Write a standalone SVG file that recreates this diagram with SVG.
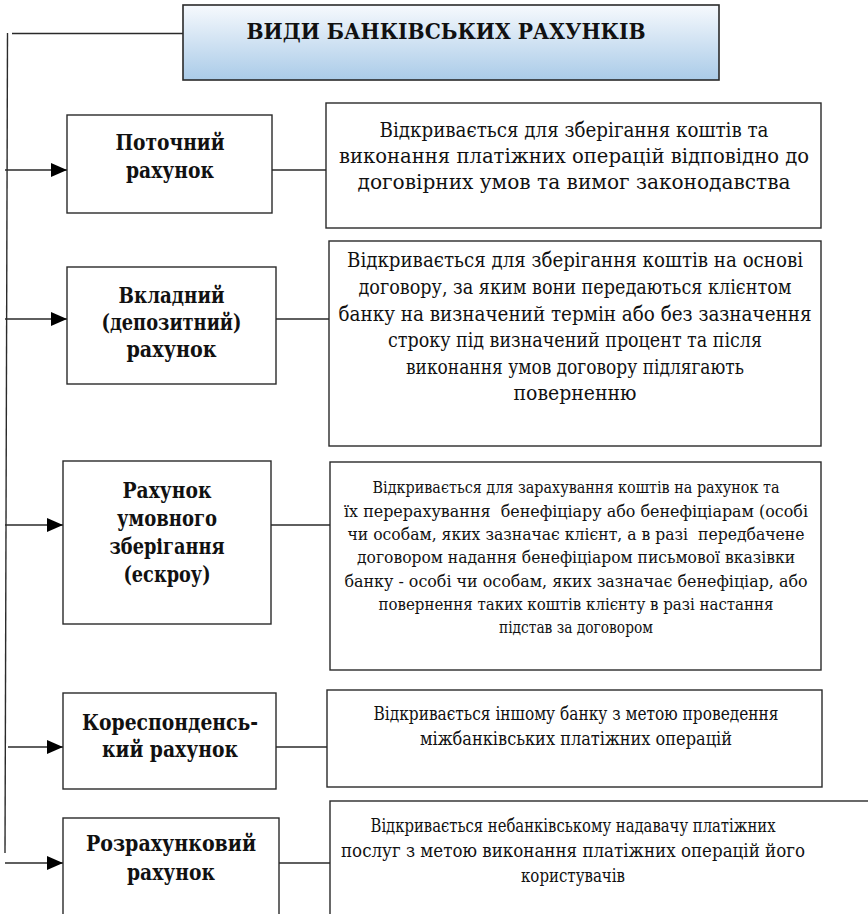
<svg xmlns="http://www.w3.org/2000/svg" width="868" height="914" viewBox="0 0 868 914">
  <defs>
    <linearGradient id="titleFill" x1="0" y1="0" x2="0" y2="1">
      <stop offset="0" stop-color="#f6f9fd"/>
      <stop offset="1" stop-color="#aacbe8"/>
    </linearGradient>
    <marker id="arrow" viewBox="0 0 16 14" refX="16" refY="7" markerWidth="16" markerHeight="14" markerUnits="userSpaceOnUse" orient="auto">
      <path d="M0,0 L16,7 L0,14 Z" fill="#000"/>
    </marker>
    <style>
      .box { fill: #fff; stroke: #2a2a2a; stroke-width: 1.4; }
      .title { fill: url(#titleFill); stroke: #2a2a2a; stroke-width: 1.6; }
      .line { fill: none; stroke: #2a2a2a; stroke-width: 1.4; }
      text { font-family: "DejaVu Serif Condensed", "DejaVu Serif", serif; font-stretch: condensed; fill: #111; text-anchor: middle; }
      .hd { font-weight: bold; font-size: 21.5px; }
      .lbl { font-weight: bold; font-size: 21.5px; }
      .d1 { font-size: 20px; }
      .d3 { font-size: 17.5px; }
      .d4 { font-size: 17.8px; }
    </style>
  </defs>

  <rect width="868" height="914" fill="#fff"/>

  <!-- connectors -->
  <g id="connectors">
    <line class="line" x1="12" y1="33.5" x2="183" y2="33.5"/>
    <line class="line" x1="7.5" y1="33" x2="5" y2="853"/>
    <line class="line" x1="5" y1="170" x2="67" y2="170" marker-end="url(#arrow)"/>
    <line class="line" x1="5" y1="319" x2="67" y2="319" marker-end="url(#arrow)"/>
    <line class="line" x1="5" y1="525" x2="63" y2="525" marker-end="url(#arrow)"/>
    <line class="line" x1="8" y1="747" x2="63" y2="747" marker-end="url(#arrow)"/>
    <line class="line" x1="5" y1="863" x2="63" y2="863" marker-end="url(#arrow)"/>
    <line class="line" x1="272" y1="170" x2="327" y2="170"/>
    <line class="line" x1="276" y1="319" x2="329" y2="319"/>
    <line class="line" x1="271" y1="525" x2="330" y2="525"/>
    <line class="line" x1="276" y1="747" x2="328" y2="747"/>
    <line class="line" x1="279" y1="863" x2="330" y2="863"/>
  </g>

  <!-- heading -->
  <g id="heading">
    <rect class="title" x="183" y="5" width="536" height="75"/>
    <text class="hd" x="446" y="39" textLength="399" lengthAdjust="spacingAndGlyphs">ВИДИ БАНКІВСЬКИХ РАХУНКІВ</text>
  </g>

  <!-- current account -->
  <g id="current">
    <rect class="box" x="67" y="115" width="205" height="98"/>
    <text class="lbl" x="170" y="150" textLength="109" lengthAdjust="spacingAndGlyphs">Поточний</text>
    <text class="lbl" x="170" y="178" textLength="88" lengthAdjust="spacingAndGlyphs">рахунок</text>
  </g>
  <g id="current-desc">
    <rect class="box" x="326" y="103" width="495" height="125"/>
    <text class="d1" x="574" y="137" textLength="389" lengthAdjust="spacingAndGlyphs">Відкривається для зберігання коштів та</text>
    <text class="d1" x="574" y="163" textLength="470" lengthAdjust="spacingAndGlyphs">виконання платіжних операцій відповідно до</text>
    <text class="d1" x="574" y="189" textLength="433" lengthAdjust="spacingAndGlyphs">договірних умов та вимог законодавства</text>
  </g>

  <!-- deposit account -->
  <g id="deposit">
    <rect class="box" x="67" y="267" width="209" height="117"/>
    <text class="lbl" x="171.5" y="303" textLength="106" lengthAdjust="spacingAndGlyphs">Вкладний</text>
    <text class="lbl" x="171.5" y="330" textLength="140" lengthAdjust="spacingAndGlyphs">(депозитний)</text>
    <text class="lbl" x="171.5" y="357" textLength="90" lengthAdjust="spacingAndGlyphs">рахунок</text>
  </g>
  <g id="deposit-desc">
    <rect class="box" x="329" y="241" width="492" height="205"/>
    <text class="d1" x="575" y="267" textLength="456" lengthAdjust="spacingAndGlyphs">Відкривається для зберігання коштів на основі</text>
    <text class="d1" x="575" y="294" textLength="433" lengthAdjust="spacingAndGlyphs">договору, за яким вони передаються клієнтом</text>
    <text class="d1" x="575" y="321" textLength="473" lengthAdjust="spacingAndGlyphs">банку на визначений термін або без зазначення</text>
    <text class="d1" x="575" y="347" textLength="374" lengthAdjust="spacingAndGlyphs">строку під визначений процент та після</text>
    <text class="d1" x="575" y="374" textLength="338" lengthAdjust="spacingAndGlyphs">виконання умов договору підлягають</text>
    <text class="d1" x="575" y="400" textLength="123" lengthAdjust="spacingAndGlyphs">поверненню</text>
  </g>

  <!-- escrow account -->
  <g id="escrow">
    <rect class="box" x="63" y="461" width="208" height="163"/>
    <text class="lbl" x="167" y="498" textLength="89" lengthAdjust="spacingAndGlyphs">Рахунок</text>
    <text class="lbl" x="167" y="526" textLength="100" lengthAdjust="spacingAndGlyphs">умовного</text>
    <text class="lbl" x="167" y="554" textLength="115" lengthAdjust="spacingAndGlyphs">зберігання</text>
    <text class="lbl" x="167" y="582" textLength="87" lengthAdjust="spacingAndGlyphs">(ескроу)</text>
  </g>
  <g id="escrow-desc">
    <rect class="box" x="330" y="462" width="491" height="208"/>
    <text class="d3" x="576" y="493" textLength="407" lengthAdjust="spacingAndGlyphs">Відкривається для зарахування коштів на рахунок та</text>
    <text class="d3" x="576" y="517" textLength="464" lengthAdjust="spacingAndGlyphs" xml:space="preserve">їх перерахування  бенефіціару або бенефіціарам (особі</text>
    <text class="d3" x="576" y="540" textLength="457" lengthAdjust="spacingAndGlyphs" xml:space="preserve">чи особам, яких зазначає клієнт, а в разі  передбачене</text>
    <text class="d3" x="576" y="563" textLength="438" lengthAdjust="spacingAndGlyphs">договором надання бенефіціаром письмової вказівки</text>
    <text class="d3" x="576" y="587" textLength="463" lengthAdjust="spacingAndGlyphs">банку - особі чи особам, яких зазначає бенефіціар, або</text>
    <text class="d3" x="576" y="610" textLength="395" lengthAdjust="spacingAndGlyphs">повернення таких коштів клієнту в разі настання</text>
    <text class="d3" x="576" y="633" textLength="154" lengthAdjust="spacingAndGlyphs">підстав за договором</text>
  </g>

  <!-- correspondent account -->
  <g id="correspondent">
    <rect class="box" x="63" y="693" width="213" height="96"/>
    <text class="lbl" x="170" y="730" textLength="176" lengthAdjust="spacingAndGlyphs">Кореспонденсь-</text>
    <text class="lbl" x="170" y="757" textLength="136" lengthAdjust="spacingAndGlyphs">кий рахунок</text>
  </g>
  <g id="correspondent-desc">
    <rect class="box" x="327" y="690" width="495" height="97"/>
    <text class="d4" x="576" y="720" textLength="405" lengthAdjust="spacingAndGlyphs">Відкривається іншому банку з метою проведення</text>
    <text class="d4" x="576" y="745" textLength="312" lengthAdjust="spacingAndGlyphs">міжбанківських платіжних операцій</text>
  </g>

  <!-- settlement account -->
  <g id="settlement">
    <rect class="box" x="63" y="818" width="216" height="120"/>
    <text class="lbl" x="171" y="851" textLength="170" lengthAdjust="spacingAndGlyphs">Розрахунковий</text>
    <text class="lbl" x="171" y="880" textLength="88" lengthAdjust="spacingAndGlyphs">рахунок</text>
  </g>
  <g id="settlement-desc">
    <rect class="box" x="330" y="801" width="560" height="140"/>
    <text class="d4" x="573" y="832" textLength="405" lengthAdjust="spacingAndGlyphs">Відкривається небанківському надавачу платіжних</text>
    <text class="d4" x="573" y="857" textLength="464" lengthAdjust="spacingAndGlyphs">послуг з метою виконання платіжних операцій його</text>
    <text class="d4" x="573" y="882" textLength="104" lengthAdjust="spacingAndGlyphs">користувачів</text>
  </g>
</svg>
